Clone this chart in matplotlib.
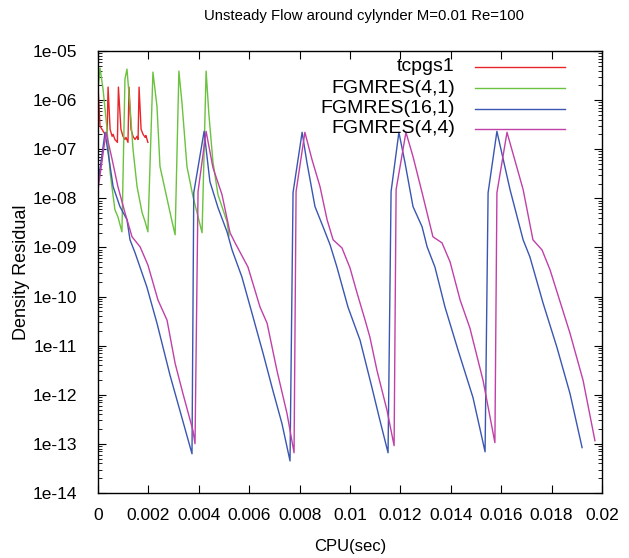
import matplotlib
matplotlib.use("Agg")
import matplotlib.pyplot as plt
from matplotlib.ticker import FixedLocator, LogLocator, NullFormatter

plt.rcParams['font.family'] = ['Liberation Sans', 'DejaVu Sans']

title = "Unsteady Flow around cylynder M=0.01 Re=100"
xlabel = "CPU(sec)"
ylabel = "Density Residual"

# ---- data (x in seconds) ----
tcpgs1_x = [0.0, 0.00008, 0.00016, 0.00028, 0.00036, 0.00040, 0.00048, 0.00056, 0.00060, 0.00067, 0.00077,
            0.00081, 0.00091, 0.00099, 0.00107, 0.00111, 0.00119, 0.00123, 0.00131, 0.00139, 0.00147,
            0.00155, 0.00159, 0.00163, 0.00171, 0.00179, 0.00187, 0.00190, 0.00198]
tcpgs1_y = [1.92e-6, 2.93e-7, 2.54e-7, 2.01e-7, 1.83e-7, 1.84e-6, 2.54e-7, 1.83e-7, 2.01e-7, 1.58e-7, 1.38e-7,
            1.84e-6, 2.54e-7, 1.83e-7, 1.58e-7, 1.74e-7, 1.38e-7, 1.84e-6, 2.54e-7, 1.83e-7, 1.58e-7,
            1.83e-7, 1.58e-7, 1.84e-6, 2.54e-7, 2.01e-7, 1.74e-7, 1.90e-7, 1.38e-7]

fg41_x = [0.0, 0.00008, 0.00020, 0.00036, 0.00048, 0.00067, 0.00079, 0.00095,
          0.00107, 0.00115, 0.00127, 0.00139, 0.00155, 0.00175, 0.00187, 0.00198,
          0.00218, 0.00234, 0.00246, 0.00266, 0.00294, 0.00306,
          0.00321, 0.00333, 0.00353, 0.00377, 0.00413,
          0.00429, 0.00440, 0.00456, 0.00476, 0.00512, 0.00520]
fg41_y = [1.67e-6, 4.49e-6, 1.67e-6, 2.54e-7, 3.36e-8, 5.9e-9, 4.2e-9, 2.08e-9,
          2.68e-6, 4.28e-6, 7.5e-7, 9.9e-8, 1.73e-8, 5.1e-9, 3.34e-9, 2.08e-9,
          3.72e-6, 7.5e-7, 4.45e-8, 1.51e-8, 3.34e-9, 1.81e-9,
          3.9e-6, 9.06e-7, 4.45e-8, 1.08e-8, 1.99e-9,
          3.9e-6, 5.15e-7, 5.6e-8, 1.19e-8, 3.34e-9, 1.73e-9]

fg161_x = [0.0, 0.00028, 0.00060, 0.00087, 0.00115, 0.00127, 0.00147, 0.00194, 0.00234, 0.00286, 0.00373,
           0.00380, 0.00421, 0.00444, 0.00476, 0.00512, 0.00532, 0.00571, 0.00611, 0.00655, 0.00694, 0.00730, 0.00762,
           0.00774, 0.00810, 0.00829, 0.00861, 0.00893, 0.00921, 0.00948, 0.00992, 0.01040, 0.01087, 0.01119, 0.01151,
           0.01163, 0.01194, 0.01218, 0.01250, 0.01286, 0.01306, 0.01337, 0.01377, 0.01429, 0.01488, 0.01536,
           0.01548, 0.01583, 0.01635, 0.01687, 0.01714, 0.01766, 0.01821, 0.01873, 0.01921]
fg161_y = [2.0e-8, 2.2e-7, 1.73e-8, 6.8e-9, 3.67e-9, 1.43e-9, 7.8e-10, 1.56e-10, 2.87e-11, 2.48e-12, 6.3e-14,
           1.3e-8, 2.31e-7, 2.2e-8, 6.5e-9, 2.08e-9, 8.9e-10, 2.51e-10, 4.6e-11, 7.0e-12, 1.22e-12, 2.59e-13, 4.5e-14,
           1.31e-8, 2.21e-7, 5.4e-8, 6.8e-9, 2.64e-9, 1.13e-9, 4.0e-10, 6.1e-11, 1.29e-11, 1.41e-12, 2.98e-13, 6.6e-14,
           1.37e-8, 2.21e-7, 5.4e-8, 6.8e-9, 2.64e-9, 1.03e-9, 4.0e-10, 6.1e-11, 8.05e-12, 8.8e-13, 6.9e-14,
           1.3e-8, 2.31e-7, 1.51e-8, 1.43e-9, 6.4e-10, 7.4e-11, 9.3e-12, 1.06e-12, 8.4e-14]

fg44_x = [0.0, 0.00032, 0.00056, 0.00079, 0.00107, 0.00135, 0.00167, 0.00198, 0.00238, 0.00274, 0.00306, 0.00337, 0.00377, 0.00385,
          0.00397, 0.00429, 0.00456, 0.00492, 0.00524, 0.00544, 0.00595, 0.00643, 0.00671, 0.00710, 0.00750, 0.00778,
          0.00786, 0.00821, 0.00849, 0.00881, 0.00909, 0.00933, 0.00968, 0.01000, 0.01028, 0.01060, 0.01079, 0.01107, 0.01147, 0.01175,
          0.01183, 0.01222, 0.01250, 0.01286, 0.01329, 0.01365, 0.01397, 0.01437, 0.01476, 0.01528, 0.01575,
          0.01583, 0.01623, 0.01687, 0.01726, 0.01762, 0.01794, 0.01873, 0.01925, 0.01972]
fg44_y = [1.5e-8, 2.21e-7, 6.2e-8, 1.73e-8, 5.1e-9, 1.65e-9, 1.03e-9, 4.4e-10, 8.5e-11, 3.3e-11, 4.37e-12, 1.06e-12, 1.86e-13, 1.01e-13,
          1.37e-8, 2.31e-7, 4.25e-8, 1.19e-8, 1.99e-9, 1.24e-9, 4.0e-10, 6.1e-11, 2.87e-11, 3.14e-12, 4.15e-13, 6.6e-14,
          1.37e-8, 2.21e-7, 6.2e-8, 1.73e-8, 3.67e-9, 1.43e-9, 9.8e-10, 3.83e-10, 1.18e-10, 3.3e-11, 1.49e-11, 3.14e-12, 4.78e-13, 9.2e-14,
          1.51e-8, 2.21e-7, 7.1e-8, 1.31e-8, 1.65e-9, 1.24e-9, 5.1e-10, 8.5e-11, 2.27e-11, 1.96e-12, 1.06e-13,
          1.3e-8, 2.21e-7, 1.51e-8, 1.43e-9, 8.9e-10, 3.48e-10, 1.79e-11, 1.96e-12, 1.16e-13]

series_names = ["tcpgs1", "FGMRES(4,1)", "FGMRES(16,1)", "FGMRES(4,4)"]
series_x = [tcpgs1_x, fg41_x, fg161_x, fg44_x]
series_y = [tcpgs1_y, fg41_y, fg161_y, fg44_y]
colors = ["#e8262a", "#6ac23e", "#3a56b0", "#c040a8"]

xticks = [0, 0.002, 0.004, 0.006, 0.008, 0.01, 0.012, 0.014, 0.016, 0.018, 0.02]
xticklabels = ["0", "0.002", "0.004", "0.006", "0.008", "0.01", "0.012", "0.014", "0.016", "0.018", "0.02"]
yticks = [1e-5, 1e-6, 1e-7, 1e-8, 1e-9, 1e-10, 1e-11, 1e-12, 1e-13, 1e-14]
yticklabels = ["1e-05", "1e-06", "1e-07", "1e-08", "1e-09", "1e-10", "1e-11", "1e-12", "1e-13", "1e-14"]

fig = plt.figure(figsize=(6.29, 5.58), dpi=100)
ax = fig.add_axes([98/629, 1-493/558, 504/629, 442/558])

for xs, ys, c in zip(series_x, series_y, colors):
    ax.plot(xs, ys, color=c, lw=1.0)

ax.set_yscale('log')
ax.set_xlim(0, 0.02)
ax.set_ylim(1e-14, 1e-5)
ax.set_xticks(xticks)
ax.set_xticklabels(xticklabels)
ax.yaxis.set_major_locator(FixedLocator(yticks))
ax.set_yticklabels(yticklabels)
ax.yaxis.set_minor_locator(LogLocator(base=10, subs=range(2, 10), numticks=30))
ax.yaxis.set_minor_formatter(NullFormatter())
ax.tick_params(which='both', direction='in', top=True, right=True, labelsize=12.5)
ax.tick_params(which='major', length=6, width=0.8)
ax.tick_params(which='minor', length=3, width=0.6)
ax.tick_params(axis='x', pad=11)
ax.tick_params(axis='y', pad=15)
for s in ax.spines.values():
    s.set_linewidth(1.0)

ax.set_title(title, fontsize=10.75, pad=22, x=0.527)
ax.set_xlabel(xlabel, fontsize=12, labelpad=11)
ax.set_ylabel(ylabel, fontsize=13, labelpad=2)

# gnuplot-style key: right-aligned text, sample line on the right
key_y = [0.964, 0.916, 0.869, 0.824]
for name, c, yk in zip(series_names, colors, key_y):
    ax.text(0.708, yk, name, transform=ax.transAxes, ha='right', va='center', fontsize=14)
    ax.plot([0.748, 0.927], [yk, yk], transform=ax.transAxes, color=c, lw=1.0)

fig.savefig("out.png", dpi=100)
